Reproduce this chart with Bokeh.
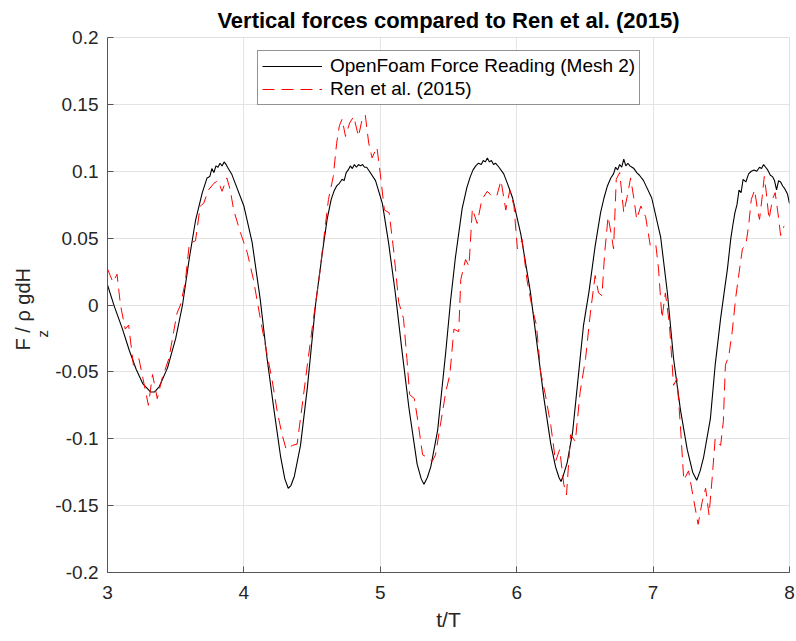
from bokeh.plotting import figure
from bokeh.models import Range1d, Legend, LegendItem, Title, CustomJSTickFormatter, FixedTicker
from bokeh.embed import file_html
from bokeh.resources import INLINE

# ---------------- data ----------------
black_t = [3.00, 3.05, 3.11, 3.16, 3.21, 3.26, 3.315, 3.345, 3.38, 3.44, 3.50, 3.55, 3.60, 3.645, 3.695,
           3.73, 3.75, 3.765, 3.78, 3.795, 3.81, 3.825, 3.84, 3.855, 3.87, 3.88, 3.91, 3.94,
           4.00, 4.06, 4.12, 4.17, 4.22, 4.27, 4.30, 4.325, 4.345, 4.37, 4.415, 4.465, 4.525, 4.575,
           4.61, 4.64, 4.66, 4.68, 4.70, 4.72, 4.735, 4.75, 4.765, 4.78, 4.795, 4.81, 4.825, 4.84,
           4.855, 4.87, 4.885, 4.90, 4.92, 4.965, 5.015, 5.06, 5.11, 5.16, 5.21, 5.27, 5.30, 5.32,
           5.345, 5.37, 5.42, 5.48, 5.515, 5.55, 5.60, 5.635, 5.66, 5.68, 5.70, 5.72, 5.74, 5.755,
           5.77, 5.785, 5.80, 5.815, 5.83, 5.845, 5.87, 5.905, 5.935, 5.97, 6.03, 6.10, 6.15, 6.20,
           6.25, 6.285, 6.31, 6.325, 6.34, 6.37, 6.41, 6.455, 6.49, 6.53, 6.575, 6.615, 6.64, 6.665,
           6.69, 6.71, 6.725, 6.74, 6.755, 6.77, 6.785, 6.80, 6.815, 6.83, 6.845, 6.86, 6.88, 6.90,
           6.93, 6.99, 7.055, 7.105, 7.15, 7.20, 7.25, 7.29, 7.32, 7.345, 7.37, 7.42, 7.455, 7.495,
           7.515, 7.545, 7.57, 7.585, 7.60, 7.615, 7.63, 7.645, 7.66, 7.68, 7.70, 7.72, 7.74, 7.76,
           7.78, 7.795, 7.81, 7.825, 7.84, 7.86, 7.875, 7.89, 7.905, 7.92, 7.935, 7.95, 7.965, 7.985,
           8.00]
black_f = [0.015, -0.001, -0.018, -0.034, -0.048, -0.059, -0.065, -0.065, -0.061, -0.047, -0.025, 0.000, 0.035, 0.063, 0.084,
           0.095, 0.096, 0.102, 0.099, 0.104, 0.103, 0.106, 0.104, 0.107, 0.105, 0.103, 0.098, 0.090,
           0.074, 0.047, 0.004, -0.040, -0.078, -0.114, -0.130, -0.137, -0.135, -0.128, -0.105, -0.062, 0.000, 0.039,
           0.064, 0.079, 0.085, 0.089, 0.091, 0.094, 0.093, 0.099, 0.101, 0.104, 0.102, 0.105, 0.103, 0.105,
           0.104, 0.105, 0.103, 0.103, 0.100, 0.093, 0.076, 0.047, 0.009, -0.035, -0.077, -0.119, -0.130, -0.134,
           -0.129, -0.121, -0.094, -0.035, 0.003, 0.035, 0.072, 0.088, 0.096, 0.101, 0.104, 0.106, 0.105, 0.108,
           0.107, 0.110, 0.107, 0.108, 0.105, 0.106, 0.103, 0.098, 0.090, 0.080, 0.053, 0.010, -0.030, -0.070,
           -0.104, -0.121, -0.129, -0.132, -0.128, -0.118, -0.095, -0.050, -0.015, 0.010, 0.044, 0.069, 0.080, 0.089,
           0.095, 0.098, 0.103, 0.101, 0.105, 0.103, 0.109, 0.104, 0.106, 0.104, 0.103, 0.102, 0.099, 0.097,
           0.093, 0.080, 0.051, 0.009, -0.040, -0.078, -0.108, -0.125, -0.131, -0.124, -0.114, -0.085, -0.045, -0.010,
           0.005, 0.027, 0.050, 0.060, 0.069, 0.075, 0.086, 0.084, 0.094, 0.092, 0.098, 0.100, 0.101, 0.100,
           0.103, 0.102, 0.105, 0.103, 0.101, 0.097, 0.096, 0.093, 0.086, 0.093, 0.092, 0.089, 0.087, 0.083,
           0.076]

ren_t = [3.00, 3.02, 3.04, 3.07, 3.095, 3.13, 3.155, 3.19, 3.23, 3.26, 3.30, 3.33, 3.365, 3.40, 3.45,
         3.485, 3.51, 3.535, 3.57, 3.60, 3.645, 3.68, 3.705, 3.74, 3.78, 3.81, 3.84, 3.875, 3.90, 3.925,
         3.975, 4.025, 4.07, 4.12, 4.17, 4.205, 4.245, 4.28, 4.31, 4.355, 4.39, 4.425, 4.465, 4.51, 4.55,
         4.585, 4.62, 4.655, 4.68, 4.70, 4.72, 4.745, 4.775, 4.805, 4.84, 4.865, 4.89, 4.915, 4.94, 4.975,
         5.00, 5.03, 5.065, 5.10, 5.135, 5.17, 5.195, 5.215, 5.25, 5.28, 5.31, 5.345, 5.38, 5.405, 5.44,
         5.48, 5.51, 5.54, 5.575, 5.59, 5.625, 5.65, 5.675, 5.71, 5.745, 5.785, 5.82, 5.855, 5.885, 5.92,
         5.95, 5.98, 6.005, 6.04, 6.075, 6.115, 6.145, 6.175, 6.21, 6.25, 6.285, 6.315, 6.345, 6.365, 6.395,
         6.43, 6.465, 6.505, 6.54, 6.575, 6.60, 6.625, 6.645, 6.67, 6.695, 6.71, 6.73, 6.755, 6.785, 6.81,
         6.835, 6.86, 6.88, 6.91, 6.945, 6.98, 7.02, 7.04, 7.065, 7.09, 7.12, 7.15, 7.175, 7.20, 7.225,
         7.26, 7.30, 7.33, 7.36, 7.385, 7.41, 7.435, 7.455, 7.495, 7.515, 7.53, 7.555, 7.58, 7.605, 7.63,
         7.655, 7.68, 7.70, 7.72, 7.745, 7.765, 7.78, 7.80, 7.815, 7.83, 7.85, 7.875, 7.895, 7.915, 7.935,
         7.96]
ren_f = [0.027, 0.022, 0.017, 0.023, 0.000, -0.018, -0.015, -0.045, -0.040, -0.055, -0.075, -0.052, -0.070, -0.055, -0.040,
         -0.020, -0.006, 0.000, 0.017, 0.046, 0.048, 0.074, 0.076, 0.086, 0.091, 0.093, 0.085, 0.095, 0.086, 0.071,
         0.054, 0.039, 0.019, -0.010, -0.037, -0.055, -0.080, -0.097, -0.108, -0.105, -0.104, -0.077, -0.045, -0.010, 0.019,
         0.049, 0.079, 0.096, 0.121, 0.134, 0.139, 0.126, 0.136, 0.141, 0.126, 0.138, 0.142, 0.121, 0.110, 0.118,
         0.098, 0.071, 0.069, 0.039, 0.002, -0.010, -0.040, -0.067, -0.070, -0.090, -0.112, -0.114, -0.117, -0.112, -0.090,
         -0.065, -0.052, -0.018, -0.020, 0.019, 0.034, 0.029, 0.072, 0.061, 0.079, 0.085, 0.081, 0.082, 0.093, 0.071,
         0.086, 0.074, 0.042, 0.049, 0.019, -0.003, -0.015, -0.050, -0.067, -0.090, -0.117, -0.108, -0.134, -0.142, -0.097,
         -0.102, -0.065, -0.040, -0.006, 0.022, 0.009, 0.007, 0.039, 0.066, 0.052, 0.042, 0.094, 0.099, 0.069, 0.081,
         0.095, 0.079, 0.064, 0.074, 0.066, 0.044, 0.045, 0.027, -0.010, 0.009, -0.015, -0.060, -0.055, -0.090, -0.131,
         -0.124, -0.147, -0.164, -0.147, -0.137, -0.157, -0.127, -0.100, -0.105, -0.087, -0.045, -0.038, -0.020, 0.005, 0.024,
         0.042, 0.045, 0.059, 0.079, 0.086, 0.071, 0.064, 0.081, 0.096, 0.084, 0.064, 0.079, 0.084, 0.069, 0.052,
         0.059]

x_ticks = [3, 4, 5, 6, 7, 8]
y_ticks = [-0.2, -0.15, -0.1, -0.05, 0.0, 0.05, 0.1, 0.15, 0.2]
title_text = "Vertical forces compared to Ren et al. (2015)"
series_names = ["OpenFoam Force Reading (Mesh 2)", "Ren et al. (2015)"]
ylabel_main = "F  / ρ gdH"
ylabel_sub = "z"

FONT = "Liberation Sans"
AX = "#262626"

p = figure(width=796, height=641, x_range=Range1d(3, 8), y_range=Range1d(-0.2, 0.2),
           output_backend="svg", toolbar_location=None,
           min_border_left=107, min_border_right=7, min_border_top=34, min_border_bottom=69)
p.background_fill_color = "white"
p.border_fill_color = "white"
p.outline_line_color = "#e0e0e0"

p.title.text = title_text
p.title.align = "center"
p.title.text_font = FONT
p.title.text_font_size = "22px"
p.title.text_font_style = "bold"
p.title.text_color = "black"

for ax in (p.xaxis[0], p.yaxis[0]):
    ax.axis_line_color = "#555555"
    ax.major_tick_line_color = "#555555"
    ax.major_tick_in = 6
    ax.major_tick_out = 0
    ax.minor_tick_line_color = None
    ax.major_label_text_font = FONT
    ax.major_label_text_font_size = "19px"
    ax.major_label_text_color = AX

p.xaxis.ticker = FixedTicker(ticks=x_ticks)
p.yaxis.ticker = FixedTicker(ticks=y_ticks)
p.yaxis.formatter = CustomJSTickFormatter(code="""
let s = tick.toFixed(2).replace(/0+$/, '').replace(/\\.$/, '');
if (s === '-0') s = '0';
return s;""")
p.xaxis.major_label_standoff = 13
p.yaxis.major_label_standoff = 9
p.xaxis.axis_label = "t/T"
p.xaxis.axis_label_text_font = FONT
p.xaxis.axis_label_text_font_size = "21px"
p.xaxis.axis_label_text_font_style = "normal"
p.xaxis.axis_label_text_color = AX
p.xaxis.axis_label_standoff = 6

p.grid.grid_line_color = "#e3e3e3"
p.grid.grid_line_width = 1

r1 = p.line(black_t, black_f, line_color="black", line_width=1.1)
r2 = p.line(ren_t, ren_f, line_color="#ff0000", line_width=1, line_dash="12 7")

legend = Legend(items=[LegendItem(label=series_names[0], renderers=[r1]),
                       LegendItem(label=series_names[1], renderers=[r2])],
                location=(150, 467), orientation="vertical")
legend.label_text_font = FONT
legend.label_text_font_size = "19px"
legend.label_text_color = "black"
legend.glyph_width = 60
legend.glyph_height = 22
legend.label_height = 22
legend.label_standoff = 8
legend.padding = 4
legend.spacing = 1
legend.margin = 0
legend.border_line_color = AX
legend.border_line_width = 1
legend.background_fill_color = "white"
legend.background_fill_alpha = 1
p.add_layout(legend, "center")

# y-axis label F_z / rho gdH: subscript column next to the axis, main text further out
sub = Title(text=ylabel_sub, align="left", offset=235, text_font=FONT, text_font_size="15px",
            text_font_style="normal", text_color=AX, standoff=0, vertical_align="top")
main = Title(text=ylabel_main, align="left", offset=222, text_font=FONT, text_font_size="20px",
             text_font_style="normal", text_color=AX, standoff=0)
p.add_layout(sub, "left")
p.add_layout(main, "left")

open("out.html", "w").write(file_html(p, INLINE))
